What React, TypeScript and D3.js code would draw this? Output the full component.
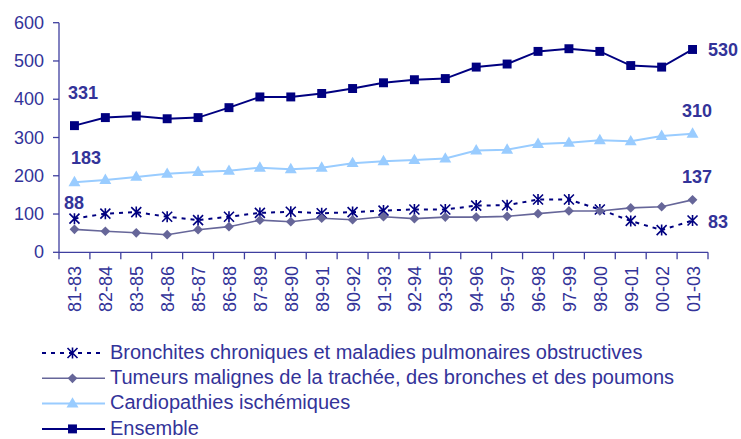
import React from "react";
import * as d3 from "d3";

const categories = ["81-83","82-84","83-85","84-86","85-87","86-88","87-89","88-90","89-91","90-92","91-93","92-94","93-95","94-96","95-97","96-98","97-99","98-00","99-01","00-02","01-03"];
const bronchites = [88,101,105,93,84,93,103,106,102,105,109,112,112,122,123,138,138,112,82,58,83];
const tumeurs = [60,55,51,46,59,67,84,80,89,85,93,88,92,92,94,101,108,108,116,119,137];
const cardio = [183,189,197,205,210,213,221,217,221,233,238,241,245,266,268,283,286,293,290,304,310];
const ensemble = [331,352,356,349,352,378,406,406,415,428,443,451,454,484,492,525,532,525,488,484,530];
const yTicks = [0,100,200,300,400,500,600];
const legendLabels = [
  "Bronchites chroniques et maladies pulmonaires obstructives",
  "Tumeurs malignes de la trachée, des bronches et des poumons",
  "Cardiopathies ischémiques",
  "Ensemble",
];

const TXT = "#333399";
const AX = "#3f3f9f";
const FONT = "'Liberation Sans', Arial, sans-serif";

const x = d3.scaleBand<string>().domain(categories).range([59, 708]);
const y = d3.scaleLinear().domain([0, 600]).range([252.3, 22.7]);
const cx = (i: number) => (x(categories[i]) as number) + x.bandwidth() / 2;

type MarkerKind = "star" | "diamond" | "triangle" | "square";

function Marker({ kind, px, py, color }: { kind: MarkerKind; px: number; py: number; color: string }) {
  if (kind === "star") {
    const s = 5;
    return (
      <path
        d={`M${px - s},${py - s}L${px + s},${py + s}M${px - s},${py + s}L${px + s},${py - s}M${px},${py - s - 0.5}L${px},${py + s + 0.5}`}
        stroke={color}
        strokeWidth={1.6}
        fill="none"
      />
    );
  }
  const sym =
    kind === "diamond"
      ? d3.symbol(d3.symbolDiamond2, 60)
      : kind === "triangle"
      ? d3.symbol(d3.symbolTriangle, 62)
      : d3.symbol(d3.symbolSquare, 80);
  return <path d={sym() as string} transform={`translate(${px},${py + (kind === "triangle" ? 0.5 : 0)})`} fill={color} />;
}

const series = [
  { name: legendLabels[0], data: bronchites, color: "#000080", width: 2, dash: "4,5", marker: "star" as MarkerKind },
  { name: legendLabels[1], data: tumeurs, color: "#666699", width: 1.6, dash: undefined, marker: "diamond" as MarkerKind },
  { name: legendLabels[2], data: cardio, color: "#99ccff", width: 2, dash: undefined, marker: "triangle" as MarkerKind },
  { name: legendLabels[3], data: ensemble, color: "#000080", width: 2, dash: undefined, marker: "square" as MarkerKind },
];

// end-value annotations: [series index, point index, dx, dy]
const annotations: [number, number, number, number][] = [
  [3, 0, -6.5, -26.5],
  [2, 0, -3.5, -18.5],
  [0, 0, -10.5, -9.5],
  [3, 20, 15.5, 6.5],
  [2, 20, -10.5, -16.5],
  [1, 20, -10.5, -16.5],
  [0, 20, 15.5, 7.5],
];

export default function App() {
  const line = d3
    .line<number>()
    .x((_, i) => cx(i))
    .y((d) => y(d));
  return (
    <svg width={741} height={439} style={{ position: "absolute", left: 0, top: 0, background: "#fff" }} fontFamily={FONT}>
      {/* Y axis */}
      <line x1={59} x2={59} y1={y(600)} y2={y(0)} stroke={AX} strokeWidth={1.3} />
      {yTicks.map((t) => (
        <g key={t}>
          <line x1={53} x2={59} y1={y(t)} y2={y(t)} stroke={AX} strokeWidth={1.3} />
          <text x={44} y={y(t)} textAnchor="end" dominantBaseline="central" fontSize={18} fill={TXT}>
            {t}
          </text>
        </g>
      ))}
      {/* X axis */}
      <line x1={59} x2={708} y1={y(0)} y2={y(0)} stroke={AX} strokeWidth={1.3} />
      {categories.map((c) => (
        <line key={"t" + c} x1={(x(c) as number) + x.bandwidth()} x2={(x(c) as number) + x.bandwidth()} y1={y(0)} y2={y(0) + 7} stroke={AX} strokeWidth={1.3} />
      ))}
      <line x1={59} x2={59} y1={y(0)} y2={y(0) + 7} stroke={AX} strokeWidth={1.3} />
      {categories.map((c, i) => (
        <text
          key={"l" + c}
          transform={`translate(${cx(i) + 1},266) rotate(-90)`}
          textAnchor="end"
          dominantBaseline="central"
          fontSize={18}
          fill={TXT}
        >
          {c}
        </text>
      ))}
      {/* Series */}
      {series.map((s) => (
        <g key={s.name}>
          <path d={line(s.data) as string} fill="none" stroke={s.color} strokeWidth={s.width} strokeDasharray={s.dash} />
          {s.data.map((v, i) => (
            <Marker key={i} kind={s.marker} px={cx(i)} py={y(v)} color={s.color} />
          ))}
        </g>
      ))}
      {/* Annotations */}
      {annotations.map(([si, pi, dx, dy], k) => (
        <text key={k} x={cx(pi) + dx} y={y(series[si].data[pi]) + dy} fontSize={18} fontWeight="bold" fill={TXT}>
          {series[si].data[pi]}
        </text>
      ))}
      {/* Legend */}
      {series.map((s, i) => {
        const ly = 353 + i * 25.3;
        return (
          <g key={"lg" + i}>
            <line x1={42} x2={105} y1={ly} y2={ly} stroke={s.color} strokeWidth={s.width} strokeDasharray={s.dash} />
            <Marker kind={s.marker} px={72.5} py={ly} color={s.color} />
            <text x={110} y={ly + 5.7} fontSize={20} fill={TXT}>
              {s.name}
            </text>
          </g>
        );
      })}
    </svg>
  );
}
